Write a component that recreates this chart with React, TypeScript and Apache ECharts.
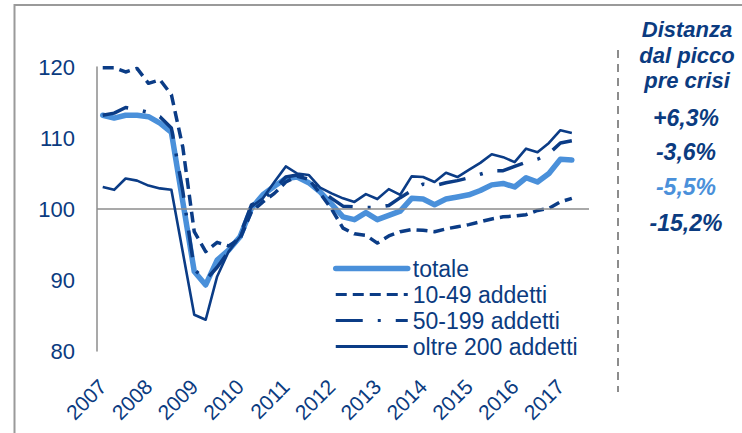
import React, { useEffect, useRef } from "react";
import * as echarts from "echarts";

const years = ["2007", "2008", "2009", "2010", "2011", "2012", "2013", "2014", "2015", "2016", "2017"];
const quarters = ["T1", "T2", "T3", "T4"];
const categories = years.flatMap((y) => quarters.map((q) => `${y} ${q}`)).slice(0, 43);

const seriesNames = ["totale", "10-49 addetti", "50-199 addetti", "oltre 200 addetti"];

const totale = [113.2, 112.8, 113.2, 113.2, 113.0, 112.1, 110.8, 101.0, 91.2, 89.3, 92.8, 94.2, 96.1, 100.1, 102.0, 103.2, 104.3, 104.5, 103.7, 102.4, 100.7, 98.9, 98.5, 99.5, 98.5, 99.1, 99.7, 101.5, 101.4, 100.6, 101.4, 101.7, 102.0, 102.6, 103.4, 103.6, 103.1, 104.4, 103.8, 105.0, 107.0, 106.9, null];
const addetti10_49 = [119.9, 119.9, 119.3, 119.8, 117.7, 118.2, 116.1, 108.7, 96.8, 94.0, 95.3, 94.8, 95.8, 99.6, 101.0, 102.2, 103.8, 104.6, 104.2, 102.2, 100.0, 97.3, 96.5, 96.3, 95.2, 96.2, 96.8, 97.1, 97.0, 96.8, 97.2, 97.5, 97.8, 98.2, 98.6, 98.9, 99.0, 99.2, 99.8, 100.1, 101.0, 101.5, null];
const addetti50_199 = [113.2, 113.5, 114.3, 114.0, 113.6, 113.0, 111.4, 102.5, 91.5, 90.0, 91.8, 94.0, 96.3, 100.6, 101.3, 102.8, 104.5, 104.8, 104.5, 102.7, 101.5, 100.4, 100.3, 100.2, 100.2, 100.5, 101.6, 102.6, 103.5, 103.3, 103.7, 104.0, 104.4, 104.9, 105.4, 105.4, 106.0, 106.6, 107.0, 107.8, 109.3, 109.6, null];
const oltre200 = [103.1, 102.7, 104.3, 104.0, 103.3, 102.9, 102.7, 93.9, 85.1, 84.4, 90.5, 94.0, 96.1, 100.3, 101.5, 103.8, 106.0, 105.0, 104.8, 103.0, 102.2, 101.5, 101.0, 102.1, 101.4, 102.8, 102.0, 104.6, 104.5, 103.8, 105.1, 104.5, 105.5, 106.5, 107.7, 107.3, 106.6, 108.5, 108.0, 109.3, 111.1, 110.7, null];

const panelTitle = ["Distanza", "dal picco", "pre crisi"];
const panelValues = ["+6,3%", "-3,6%", "-5,5%", "-15,2%"];

const DARK = "#0B3C86";
const LIGHT = "#4A90DA";
const TEXT = "#0B3B80";
const FONT = '"Liberation Sans", Arial, sans-serif';

export default function App() {
  const ref = useRef<HTMLDivElement>(null);
  useEffect(() => {
    if (!ref.current) return;
    const chart = echarts.init(ref.current, null, { renderer: "svg" });
    const lineStyles: any[] = [
      { color: LIGHT, width: 5.5, type: "solid", cap: "round", join: "round" },
      { color: DARK, width: 3.5, type: [11, 6], cap: "butt", join: "round" },
      { color: DARK, width: 3.5, type: [27, 15, 3, 15], cap: "butt", join: "round" },
      { color: DARK, width: 2.6, type: "solid", cap: "butt", join: "round" },
    ];
    const legendLineStyles: any[] = lineStyles.map((s, i) => ({ ...s, width: i === 0 ? 5.5 : 3.2 }));
    const datasets = [totale, addetti10_49, addetti50_199, oltre200];
    const panelY = [29, 55, 80];
    const valueY = [118, 152, 187, 223];
    const option: any = {
      animation: false,
      grid: { left: 97, right: 153, top: 67, bottom: 82 },
      xAxis: {
        type: "category",
        data: categories,
        boundaryGap: true,
        axisLine: { show: false },
        axisTick: { show: false },
        axisLabel: {
          interval: 3,
          rotate: 45,
          margin: 32,
          fontSize: 21,
          color: TEXT,
          fontFamily: FONT,
          formatter: (v: string) => v.slice(0, 4),
        },
      },
      yAxis: {
        type: "value",
        min: 80,
        max: 120,
        interval: 10,
        axisLine: { show: true, lineStyle: { color: "#8c8c8c", width: 1.5 } },
        axisTick: { show: false },
        splitLine: { show: false },
        axisLabel: { fontSize: 22, color: TEXT, fontFamily: FONT, margin: 22 },
      },
      legend: {
        orient: "vertical",
        left: 333,
        top: 257,
        padding: 0,
        itemWidth: 72,
        itemHeight: 20,
        itemGap: 3,
        textStyle: { fontSize: 23, lineHeight: 23, color: TEXT, fontFamily: FONT },
        data: seriesNames.map((n, i) => ({
          name: n,
          lineStyle: legendLineStyles[i],
          itemStyle: { opacity: 0, borderWidth: 0 },
        })),
      },
      series: [
        {
          type: "line",
          name: "__base",
          data: [],
          silent: true,
          z: 1,
          markLine: {
            silent: true,
            symbol: "none",
            label: { show: false },
            lineStyle: { color: "#8c8c8c", width: 1.5, type: "solid" },
            data: [{ yAxis: 100 }],
          },
        },
        ...seriesNames.map((n, i) => ({
          type: "line",
          name: n,
          data: datasets[i],
          symbol: "none",
          showSymbol: false,
          z: 2 + i,
          lineStyle: lineStyles[i],
          itemStyle: { color: lineStyles[i].color },
        })),
      ],
      graphic: [
        {
          type: "rect",
          shape: { x: 14.5, y: 5, width: 780, height: 480 },
          style: { fill: "none", stroke: "#9a9a9a", lineWidth: 2 },
          silent: true,
        },
        {
          type: "line",
          shape: { x1: 618, y1: 50, x2: 618, y2: 392 },
          style: { stroke: "#8c8c8c", lineWidth: 2, lineDash: [8, 6] },
          silent: true,
        },
        ...panelTitle.map((t, i) => ({
          type: "text",
          x: 687,
          y: panelY[i],
          style: {
            text: t,
            fill: TEXT,
            fontSize: 22,
            fontWeight: "bold",
            fontStyle: "italic",
            fontFamily: FONT,
            align: "center",
            verticalAlign: "middle",
          },
        })),
        ...panelValues.map((t, i) => ({
          type: "text",
          x: 686,
          y: valueY[i],
          style: {
            text: t,
            fill: i === 2 ? LIGHT : TEXT,
            fontSize: 23,
            fontWeight: "bold",
            fontStyle: "italic",
            fontFamily: FONT,
            align: "center",
            verticalAlign: "middle",
          },
        })),
      ],
    };
    chart.setOption(option);
    return () => chart.dispose();
  }, []);
  return (
    <div
      ref={ref}
      style={{ position: "fixed", left: 0, top: 0, width: 742, height: 433, background: "#fff" }}
    />
  );
}
